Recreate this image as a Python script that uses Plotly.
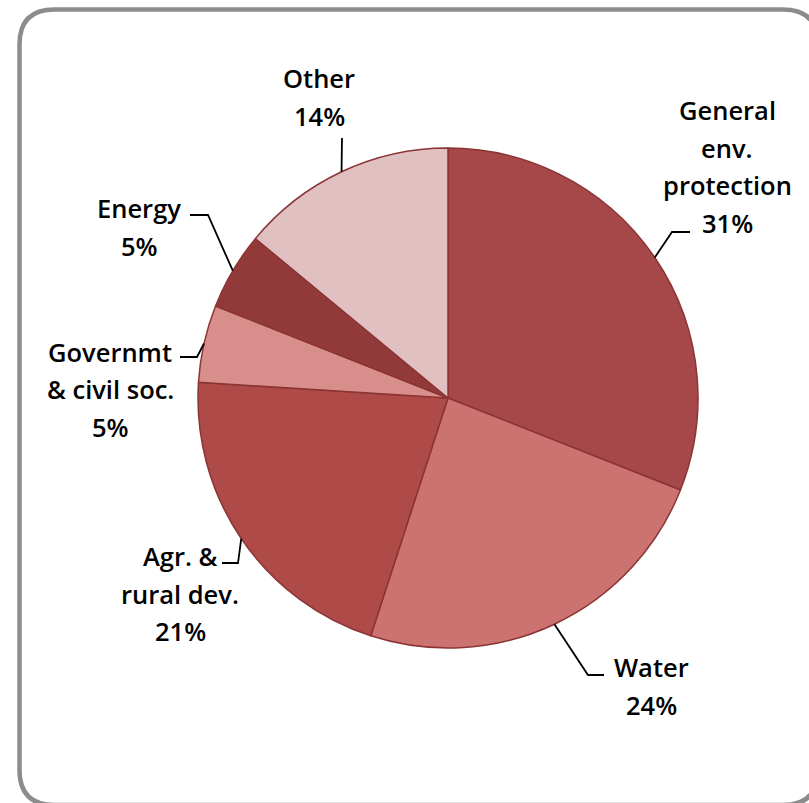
import math
import plotly.graph_objects as go

# Environmental aid by sector (share of total, %)
sectors = ["General env. protection", "Water", "Agr. & rural dev.",
           "Governmt & civil soc.", "Energy", "Other"]
shares = [31, 24, 21, 5, 5, 14]
label_lines = [
    ["General", "env.", "protection", "31%"],
    ["Water", "24%"],
    ["Agr. &", "rural dev.", "21%"],
    ["Governmt", "& civil soc.", "5%"],
    ["Energy", "5%"],
    ["Other", "14%"],
]
slice_colors = ["#A64849", "#CC7271", "#AE4A48", "#D88F8C", "#923A3A", "#E0C0C1"]

W, H = 809, 803
CX, CY, R = 448, 398, 250  # pie centre and radius in pixels


def px(x):
    return x / W


def py(y):
    return 1 - y / H


fig = go.Figure(go.Pie(
    labels=sectors,
    values=shares,
    sort=False,
    direction="clockwise",
    rotation=0,
    textinfo="none",
    hoverinfo="label+percent",
    marker=dict(colors=slice_colors, line=dict(color="#8B3434", width=1.5)),
    domain=dict(x=[px(CX - R), px(CX + R)], y=[py(CY + R), py(CY - R)]),
    showlegend=False,
))

# Label placement: elbow point, end of leader, text centre x, first-line y
label_layout = [
    dict(elbow=(672, 232), end=(690, 232), tx=727, ty=110),
    dict(elbow=(588, 675), end=(604, 675), tx=651, ty=667),
    dict(elbow=(238, 563), end=(222, 563), tx=180, ty=556),
    dict(elbow=(197, 357), end=(180, 357), tx=110, ty=352),
    dict(elbow=(208, 215), end=(190, 215), tx=139, ty=208),
    dict(elbow=(342, 138), end=(342, 138), tx=319, ty=78),
]
LINE_GAP = 37.5

shapes = []
annotations = []
total = sum(shares)
cum = 0
for val, lines, lay in zip(shares, label_lines, label_layout):
    mid = (cum + val / 2) / total * 2 * math.pi
    cum += val
    sx = CX + R * math.sin(mid)
    sy = CY - R * math.cos(mid)
    pts = [(sx, sy), lay["elbow"], lay["end"]]
    path = "M {} {}".format(px(pts[0][0]), py(pts[0][1]))
    for p in pts[1:]:
        path += " L {} {}".format(px(p[0]), py(p[1]))
    shapes.append(dict(type="path", path=path, xref="paper", yref="paper",
                       line=dict(color="black", width=1.8)))
    for i, t in enumerate(lines):
        annotations.append(dict(
            text=t, x=px(lay["tx"]), y=py(lay["ty"] + i * LINE_GAP),
            xref="paper", yref="paper", showarrow=False,
            xanchor="center", yanchor="middle",
            font=dict(family="Open Sans", size=25.5, color="black", weight=600),
        ))

# Rounded chart frame
x0, y0, x1, y1, rr = 19.5, 9.5, 818, 805, 35
frame = (
    f"M {px(x0 + rr)} {py(y0)} L {px(x1 - rr)} {py(y0)} "
    f"Q {px(x1)} {py(y0)} {px(x1)} {py(y0 + rr)} "
    f"L {px(x1)} {py(y1 - rr)} Q {px(x1)} {py(y1)} {px(x1 - rr)} {py(y1)} "
    f"L {px(x0 + rr)} {py(y1)} Q {px(x0)} {py(y1)} {px(x0)} {py(y1 - rr)} "
    f"L {px(x0)} {py(y0 + rr)} Q {px(x0)} {py(y0)} {px(x0 + rr)} {py(y0)} Z"
)
shapes.insert(0, dict(type="path", path=frame, xref="paper", yref="paper",
                      line=dict(color="#8C8C8C", width=4.5), layer="below"))

fig.update_layout(
    width=W, height=H,
    margin=dict(l=0, r=0, t=0, b=0),
    paper_bgcolor="white",
    plot_bgcolor="white",
    shapes=shapes,
    annotations=annotations,
)

fig.write_html("out.html")
